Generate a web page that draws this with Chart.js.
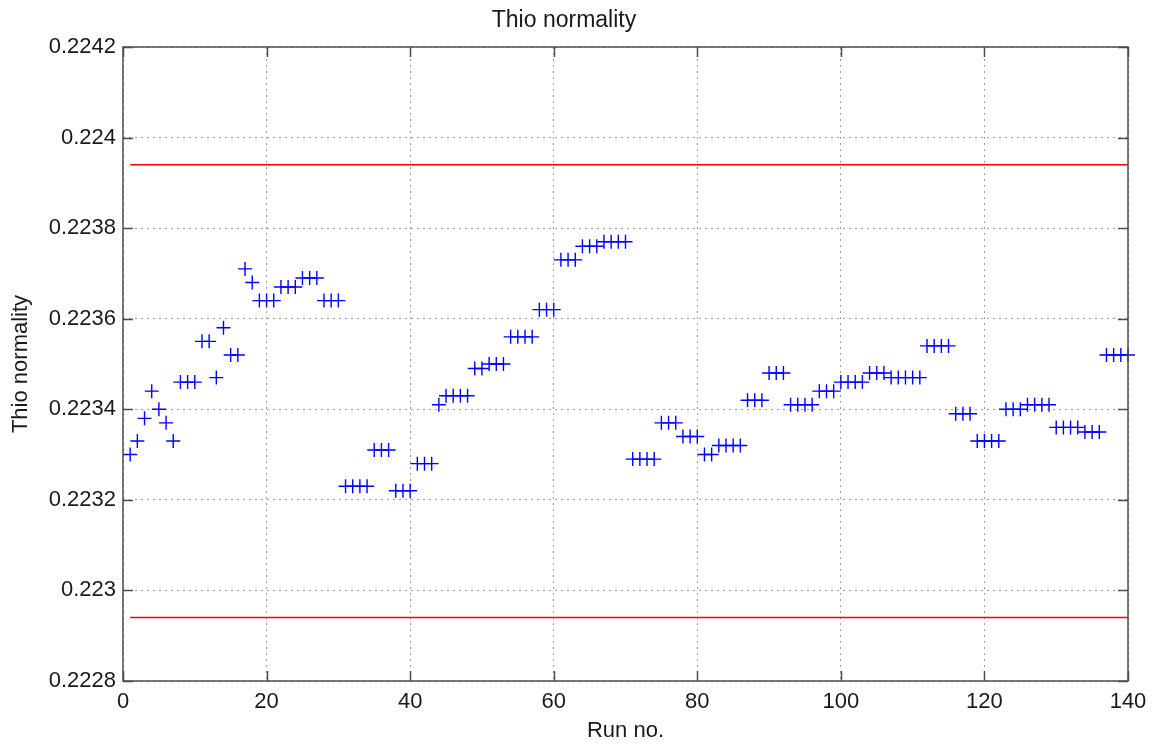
<!DOCTYPE html>
<html>
<head>
<meta charset="utf-8">
<title>Thio normality</title>
<script src="https://cdn.jsdelivr.net/npm/chart.js@4.4.1/dist/chart.umd.min.js"></script>
<style>
  html, body { margin: 0; padding: 0; background: #fff; }
  #wrap { width: 1156px; height: 747px; }
</style>
</head>
<body>
<div id="wrap"><canvas id="myChart"></canvas></div>
<script>
(function () {
  'use strict'
//----------------

// numero da corrida (eixo x)
var runNo = [
  1, 2, 3, 4, 5, 6, 7, 8, 9, 10, 11, 12, 13, 14, 15, 16, 17, 18, 19, 20,
  21, 22, 23, 24, 25, 26, 27, 28, 29, 30, 31, 32, 33, 34, 35, 36, 37, 38, 39, 40,
  41, 42, 43, 44, 45, 46, 47, 48, 49, 50, 51, 52, 53, 54, 55, 56, 57, 58, 59, 60,
  61, 62, 63, 64, 65, 66, 67, 68, 69, 70, 71, 72, 73, 74, 75, 76, 77, 78, 79, 80,
  81, 82, 83, 84, 85, 86, 87, 88, 89, 90, 91, 92, 93, 94, 95, 96, 97, 98, 99, 100,
  101, 102, 103, 104, 105, 106, 107, 108, 109, 110, 111, 112, 113, 114, 115, 116, 117, 118, 119, 120,
  121, 122, 123, 124, 125, 126, 127, 128, 129, 130, 131, 132, 133, 134, 135, 136, 137, 138, 139, 140
]

// normalidade do tiossulfato em cada corrida
var normality = [
  0.22330, 0.22333, 0.22338, 0.22344, 0.22340, 0.22337, 0.22333, 0.22346, 0.22346, 0.22346,
  0.22355, 0.22355, 0.22347, 0.22358, 0.22352, 0.22352, 0.22371, 0.22368, 0.22364, 0.22364,
  0.22364, 0.22367, 0.22367, 0.22367, 0.22369, 0.22369, 0.22369, 0.22364, 0.22364, 0.22364,
  0.22323, 0.22323, 0.22323, 0.22323, 0.22331, 0.22331, 0.22331, 0.22322, 0.22322, 0.22322,
  0.22328, 0.22328, 0.22328, 0.22341, 0.22343, 0.22343, 0.22343, 0.22343, 0.22349, 0.22349,
  0.22350, 0.22350, 0.22350, 0.22356, 0.22356, 0.22356, 0.22356, 0.22362, 0.22362, 0.22362,
  0.22373, 0.22373, 0.22373, 0.22376, 0.22376, 0.22376, 0.22377, 0.22377, 0.22377, 0.22377,
  0.22329, 0.22329, 0.22329, 0.22329, 0.22337, 0.22337, 0.22337, 0.22334, 0.22334, 0.22334,
  0.22330, 0.22330, 0.22332, 0.22332, 0.22332, 0.22332, 0.22342, 0.22342, 0.22342, 0.22348,
  0.22348, 0.22348, 0.22341, 0.22341, 0.22341, 0.22341, 0.22344, 0.22344, 0.22344, 0.22346,
  0.22346, 0.22346, 0.22346, 0.22348, 0.22348, 0.22348, 0.22347, 0.22347, 0.22347, 0.22347,
  0.22347, 0.22354, 0.22354, 0.22354, 0.22354, 0.22339, 0.22339, 0.22339, 0.22333, 0.22333,
  0.22333, 0.22333, 0.22340, 0.22340, 0.22340, 0.22341, 0.22341, 0.22341, 0.22341, 0.22336,
  0.22336, 0.22336, 0.22336, 0.22335, 0.22335, 0.22335, 0.22352, 0.22352, 0.22352, 0.22352
]

// limites de controle (linhas vermelhas)
var limitRuns = [1, 140]
var upperLimit = 0.22394
var lowerLimit = 0.22294

// eixos
var xRange = [0, 140]
var xStep = 20
var yRange = [0.2228, 0.2242]
var yStep = 0.0002

var pontos = runNo.map(function (r, i) { return { x: r, y: normality[i] } })
var linhaSup = limitRuns.map(function (r) { return { x: r, y: upperLimit } })
var linhaInf = limitRuns.map(function (r) { return { x: r, y: lowerLimit } })

var fonte = "'Liberation Sans', Arial, sans-serif"
var corEixo = '#4d4d4d'

// moldura com marcas internas (estilo matlab)
var moldura = {
  id: 'moldura',
  afterDraw: function (chart) {
    var a = chart.chartArea
    var c = chart.ctx
    var sx = chart.scales.x
    var sy = chart.scales.y
    var L = 10
    c.save()
    c.strokeStyle = corEixo
    c.lineWidth = 1.5
    c.beginPath()
    sx.ticks.forEach(function (t) {
      var px = Math.round(sx.getPixelForValue(t.value)) + 0.5
      c.moveTo(px, a.bottom); c.lineTo(px, a.bottom - L)
      c.moveTo(px, a.top); c.lineTo(px, a.top + L)
    })
    sy.ticks.forEach(function (t) {
      var py = Math.round(sy.getPixelForValue(t.value)) + 0.5
      c.moveTo(a.left, py); c.lineTo(a.left + L, py)
      c.moveTo(a.right, py); c.lineTo(a.right - L, py)
    })
    c.stroke()
    c.strokeRect(a.left, a.top, a.right - a.left, a.bottom - a.top)
    c.restore()
  }
}

const ctx = document.getElementById('myChart').getContext('2d');

new Chart(ctx, {
  type: 'scatter',
  data: {
    datasets: [
      {
        label: 'Thio normality',
        data: pontos,
        showLine: false,
        pointStyle: 'cross',
        pointRadius: 7,
        pointHoverRadius: 7,
        pointBorderWidth: 1.4,
        borderColor: '#0000ff',
        backgroundColor: '#0000ff',
        clip: false
      },
      {
        label: 'upper',
        data: linhaSup,
        type: 'line',
        showLine: true,
        borderColor: '#ff0000',
        borderWidth: 1.5,
        pointRadius: 0,
        fill: false
      },
      {
        label: 'lower',
        data: linhaInf,
        type: 'line',
        showLine: true,
        borderColor: '#ff0000',
        borderWidth: 1.5,
        pointRadius: 0,
        fill: false
      }
    ]
  },
  options: {
    responsive: true,
    maintainAspectRatio: false,
    animation: false,
    layout: { padding: { left: 0, right: 28, top: 0, bottom: 0 } },
    plugins: {
      legend: { display: false },
      tooltip: { enabled: false },
      title: {
        display: true,
        text: 'Thio normality',
        color: '#1a1a1a',
        font: { family: fonte, size: 23, weight: 'normal' },
        padding: { top: 7, bottom: 12.4 }
      }
    },
    scales: {
      x: {
        type: 'linear',
        min: xRange[0],
        max: xRange[1],
        afterFit: function (s) { s.height = 66 },
        ticks: {
          stepSize: xStep,
          color: '#1a1a1a',
          padding: 8,
          maxRotation: 0,
          font: { family: fonte, size: 22 }
        },
        grid: { color: 'rgba(60,60,60,0.5)', lineWidth: 1, drawTicks: false },
        border: { display: false, dash: [2, 4] },
        title: {
          display: true,
          text: 'Run no.',
          color: '#1a1a1a',
          font: { family: fonte, size: 22 },
          padding: { top: 0, bottom: 3 }
        }
      },
      y: {
        type: 'linear',
        min: yRange[0],
        max: yRange[1],
        afterFit: function (s) { s.width = 123 },
        ticks: {
          stepSize: yStep,
          color: '#1a1a1a',
          padding: 7,
          font: { family: fonte, size: 22 },
          callback: function (v) { return String(parseFloat(Number(v).toFixed(4))) }
        },
        grid: { color: 'rgba(60,60,60,0.5)', lineWidth: 1, drawTicks: false },
        border: { display: false, dash: [2, 4] },
        title: {
          display: true,
          text: 'Thio normality',
          color: '#1a1a1a',
          font: { family: fonte, size: 22 },
          padding: { top: 8, bottom: 0 }
        }
      }
    }
  },
  plugins: [moldura]
});

//----

})()
</script>
</body>
</html>
